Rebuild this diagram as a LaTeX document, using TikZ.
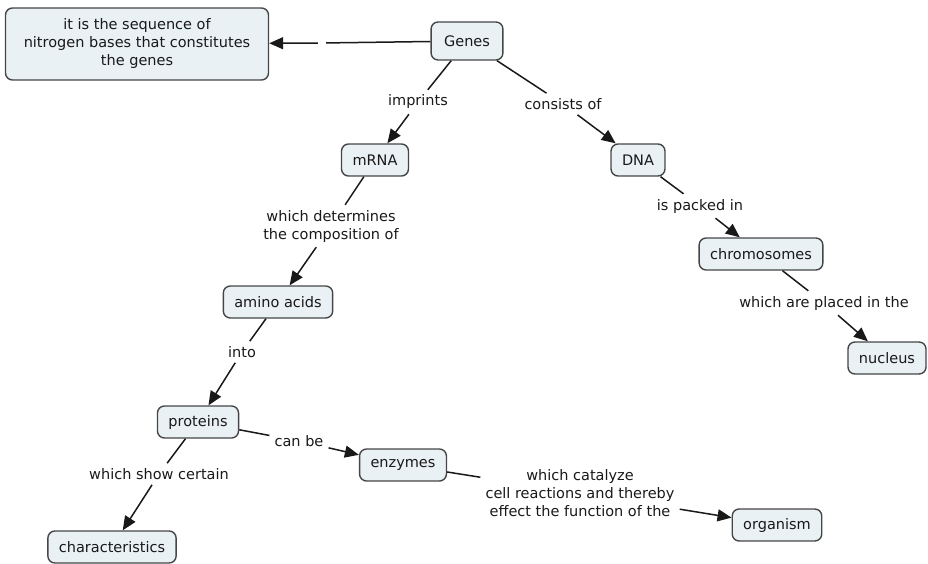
\documentclass[tikz,border=0pt]{standalone}
\usepackage{fontspec}
\setmainfont{DejaVu Sans}
\usetikzlibrary{arrows.meta}
\definecolor{boxfill}{RGB}{233,241,245}
\definecolor{boxline}{RGB}{70,70,70}
\definecolor{ink}{RGB}{25,25,25}
\begin{document}
\begin{tikzpicture}[x=1pt, y=-1pt, font=\fontsize{14.5}{18}\selectfont, text=ink,
	concept/.style={draw=boxline, fill=boxfill, rounded corners=7pt, line width=1.4pt, inner xsep=11pt, minimum height=32pt},
	phrase/.style={inner sep=5pt, align=center},
	link/.style={line width=1.5pt, draw=ink},
	arr/.style={link, -{Triangle[length=14pt,width=12pt]}}]
			\useasboundingbox (0,0) rectangle (928,564);
			
			\node[concept, minimum height=38pt, inner xsep=13pt] at (467,41) (G) {Genes};
			\node[concept, align=center, minimum width=263pt, minimum height=72pt] at (137,44) (Seq) {it is the sequence of\\nitrogen bases that constitutes\\the genes};
			\node[concept] at (375,160) (M) {mRNA};
			\node[concept] at (638,160) (D) {DNA};
			\node[concept] at (761,254) (C) {chromosomes};
			\node[concept] at (887,358) (N) {nucleus};
			\node[concept] at (278,302) (A) {amino acids};
			\node[concept] at (198,422) (P) {proteins};
			\node[concept] at (403,465) (E) {enzymes};
			\node[concept] at (112,547) (Ch) {characteristics};
			\node[concept] at (777,525) (O) {organism};
			
			\node[phrase, inner sep=4pt] at (322,43) (G0) {};
			\node[phrase] at (418,102) (G1) {imprints};
			\node[phrase] at (563,104) (G2) {consists of};
			\node[phrase] at (331,226) (M1) {which determines\\the composition of};
			\node[phrase] at (700,206) (D1) {is packed in};
			\node[phrase] at (824,303) (C1) {which are placed in the};
			\node[phrase] at (242,352) (A1) {into};
			\node[phrase] at (299,441) (P1) {can be};
			\node[phrase] at (159,474) (P2) {which show certain};
			\node[phrase] at (580,493) (E1) {which catalyze\\cell reactions and thereby\\effect the function of the};
			
			\draw[link] (G) -- (G0) (G) -- (G1) (G) -- (G2)
			(M) -- (M1) (D) -- (D1) (C) -- (C1) (A) -- (A1)
			(P) -- (P1) (P) -- (P2) (E) -- (E1);
			\draw[arr] (G0) -- (Seq);
			\draw[arr] (G1) -- (M);
			\draw[arr] (G2) -- (D);
			\draw[arr] (M1) -- (A);
			\draw[arr] (D1) -- (C);
			\draw[arr] (C1) -- (N);
			\draw[arr] (A1) -- (P);
			\draw[arr] (P1) -- (E);
			\draw[arr] (P2) -- (Ch);
			\draw[arr] (E1) -- (O);
		\end{tikzpicture}
\end{document}
